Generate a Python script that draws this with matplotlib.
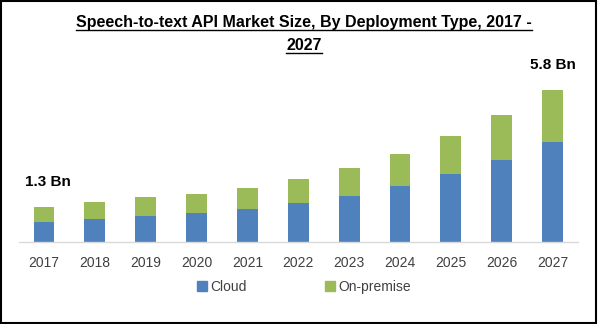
import matplotlib
matplotlib.use('Agg')
import matplotlib.pyplot as plt
from matplotlib.patches import Rectangle
from matplotlib.lines import Line2D
import numpy as np

years = ['2017', '2018', '2019', '2020', '2021', '2022', '2023', '2024', '2025', '2026', '2027']
cloud = [0.76, 0.88, 0.99, 1.11, 1.26, 1.49, 1.76, 2.14, 2.60, 3.13, 3.82]
on_premise = [0.57, 0.65, 0.73, 0.73, 0.80, 0.92, 1.07, 1.22, 1.45, 1.72, 1.98]
labels = {0: '1.3 Bn', 10: '5.8 Bn'}

blue = '#4F81BD'
green = '#9BBB59'
grey_txt = '#404040'

plt.rcParams['font.family'] = ['Liberation Sans', 'DejaVu Sans']

fig = plt.figure(figsize=(5.98, 3.24), dpi=100)
ax = fig.add_axes([0.031, 0.253, 0.9355, 0.50])

x = np.arange(len(years))
ax.bar(x, cloud, width=0.41, color=blue, label='Cloud')
ax.bar(x, on_premise, width=0.41, bottom=cloud, color=green, label='On-premise')

totals = np.array(cloud) + np.array(on_premise)
for i, txt in labels.items():
    ax.annotate(txt, (x[i], totals[i]), xytext=(3 if i == 0 else 0, 18),
                textcoords='offset points', ha='center', va='center',
                fontsize=11, fontweight='bold', color='black')

ax.set_xlim(-0.5, 10.5)
ax.set_ylim(0, 6.18)
ax.set_xticks(x)
ax.set_xticklabels(years, fontsize=10, color=grey_txt)
ax.tick_params(axis='x', length=0, pad=10)
ax.set_yticks([])
for s in ['top', 'right', 'left']:
    ax.spines[s].set_visible(False)
ax.spines['bottom'].set_color('#D9D9D9')
ax.spines['bottom'].set_linewidth(1)

handles = [Line2D([], [], marker='s', linestyle='none', markersize=7, color=blue),
           Line2D([], [], marker='s', linestyle='none', markersize=7, color=green)]
fig.legend(handles, ['Cloud', 'On-premise'], loc='center', bbox_to_anchor=(0.508, 0.114),
           ncol=2, frameon=False, fontsize=10, handletextpad=0.2, columnspacing=5.6,
           labelcolor=grey_txt, handlelength=0.8)

t1 = fig.text(0.508, 1 - 23 / 324, 'Speech-to-text API Market Size, By Deployment Type, 2017 -',
              ha='center', va='center', fontsize=11.5, fontweight='bold')
t2 = fig.text(0.508, 1 - 46 / 324, '2027', ha='center', va='center', fontsize=11.5, fontweight='bold')

# underline the title lines
fig.canvas.draw()
r = fig.canvas.get_renderer()
inv = fig.transFigure.inverted()
for t in (t1, t2):
    bb = t.get_window_extent(r)
    (x0, y0), (x1, y1) = inv.transform([[bb.x0, bb.y0], [bb.x1, bb.y1]])
    fig.add_artist(Line2D([x0, x1], [y0 + 0.002, y0 + 0.002], color='black', lw=1,
                          transform=fig.transFigure))

fig.add_artist(Rectangle((0.002, 0.003), 0.995, 0.994, fill=False, edgecolor='black',
                         lw=1.5, transform=fig.transFigure))

fig.savefig('out.png', dpi=100)
